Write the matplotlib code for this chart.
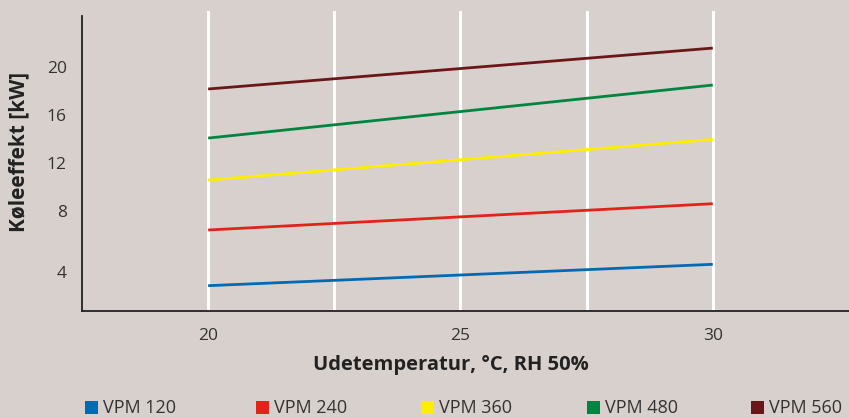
import numpy as np
import matplotlib
matplotlib.use('Agg')
import matplotlib.pyplot as plt
from matplotlib.patches import Rectangle

plt.rcParams['font.family'] = ['Open Sans', 'DejaVu Sans']

# data
temps = [20, 30]
series = ['VPM 120', 'VPM 240', 'VPM 360', 'VPM 480', 'VPM 560']
vpm120 = [1.78, 3.56]
vpm240 = [6.42, 8.61]
vpm360 = [10.58, 13.97]
vpm480 = [14.08, 18.5]
vpm560 = [18.17, 21.58]
values = [vpm120, vpm240, vpm360, vpm480, vpm560]
colors = ['#006ab3', '#e2231a', '#ffed00', '#008540', '#6b1719']

xticks = [20, 25, 30]
grid_x = [20, 22.5, 25, 27.5, 30]
# the "4" label in the original sits lower than the linear scale would put it
ytick_pos = [2.92, 8, 12, 16, 20]
ytick_lab = ['4', '8', '12', '16', '20']

bg = '#d8d0cd'
fig = plt.figure(figsize=(8.49, 4.18), dpi=100, facecolor=bg)
ax = fig.add_axes([82/849, 1 - 311/418, 767/849, 300/418])
ax.set_facecolor(bg)

for g in grid_x:
    ax.axvline(g, color='white', lw=2.2, zorder=1)

for vals, c in zip(values, colors):
    ax.plot(temps, vals, color=c, lw=2.0, solid_capstyle='butt', zorder=3)

ax.set_xlim(17.5, 32.7)
ax.set_ylim(-0.33, 24.67)
ax.set_xticks(xticks)
ax.set_yticks(ytick_pos)
ax.set_yticklabels(ytick_lab)
ax.tick_params(length=0, labelsize=12.5, colors='#333333')
ax.tick_params(axis='y', pad=11)
ax.tick_params(axis='x', pad=12)

for s in ['top', 'right']:
    ax.spines[s].set_visible(False)
ax.spines['left'].set_bounds(-0.33, 24.25)
for s in ['left', 'bottom']:
    ax.spines[s].set_color('#222222')
    ax.spines[s].set_linewidth(1.3)

fig.text(19/849, 1 - 152/418, 'Køleeffekt [kW]', rotation=90, ha='center', va='center',
         fontsize=15, fontweight='bold', color='#222222')
fig.text(451/849, 1 - 365/418, 'Udetemperatur, °C, RH 50%', ha='center', va='center',
         fontsize=14.5, fontweight='bold', color='#222222')

# legend along the bottom
leg_x = [85, 256, 421, 587, 751]
for lx, name, c in zip(leg_x, series, colors):
    fig.add_artist(Rectangle((lx/849, 1 - 414/418), 13/849, 13/418, facecolor=c,
                             edgecolor='none', transform=fig.transFigure))
    fig.text((lx + 18)/849, 1 - 408/418, name, ha='left', va='center',
             fontsize=13, color='#333333')

fig.savefig('out.png', dpi=100, facecolor=bg)
